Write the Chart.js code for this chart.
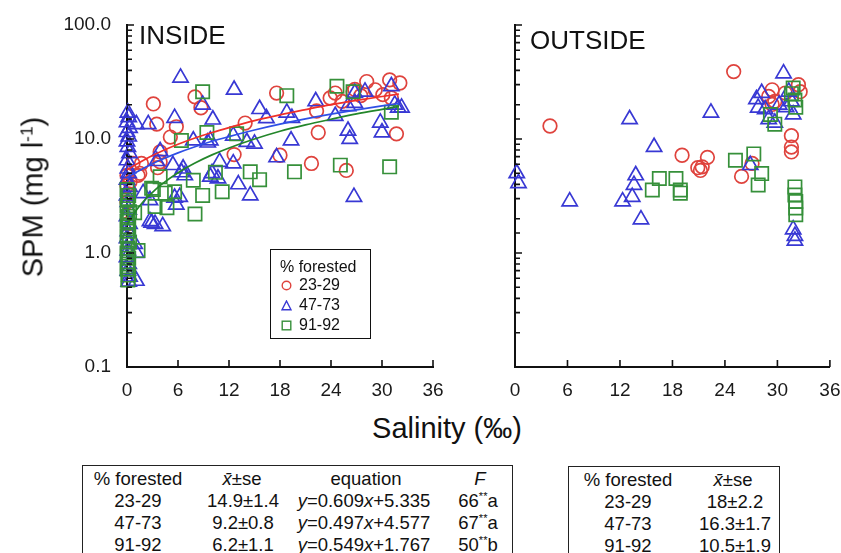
<!DOCTYPE html>
<html>
<head>
<meta charset="utf-8">
<script src="https://cdn.jsdelivr.net/npm/chart.js@4.4.0/dist/chart.umd.min.js"></script>
<style>
  body { margin: 0; background: #fff; width: 841px; height: 553px; overflow: hidden; position: relative;
         font-family: "Liberation Sans", Arial, sans-serif; color: #111; }
  canvas { position: absolute; top: 0; }
  #cInside { left: 0; }
  #cOutside { left: 440px; }
  .lbl { position: absolute; white-space: nowrap; line-height: 1; }
  .panel { font-size: 26px; }
  #ytitle { left: 33px; top: 197px; font-size: 29px; transform: translate(-50%, -50%) rotate(-90deg); }
  #xtitle { left: 447px; top: 428px; font-size: 29px; transform: translate(-50%, -50%); }
  sup { font-size: 60%; vertical-align: 0.6em; line-height: 0; }
  #legend { position: absolute; left: 270px; top: 249px; width: 101px; height: 90px; border: 1.5px solid #111;
            font-size: 16px; box-sizing: border-box; }
  #legend .lt { position: absolute; left: 9px; top: 8px; }
  #legend .lr { position: absolute; left: 10px; height: 20px; line-height: 20px; }
  #legend svg { vertical-align: -1px; margin-right: 7px; }
  .tbl { position: absolute; border: 1.5px solid #222; border-bottom: none; font-size: 18.5px; height: 100px; box-sizing: border-box; }
  .tbl span { position: absolute; transform: translateX(-50%); white-space: nowrap; line-height: 22px; }
</style>
</head>
<body>
<canvas id="cInside" width="450" height="410"></canvas>
<canvas id="cOutside" width="401" height="410"></canvas>

<div class="lbl panel" style="left:139px;top:22px">INSIDE</div>
<div class="lbl panel" style="left:530px;top:27px">OUTSIDE</div>
<div class="lbl" id="ytitle">SPM (mg l<sup>-1</sup>)</div>
<div class="lbl" id="xtitle">Salinity (‰)</div>
<div id="legend"></div>
<div class="tbl" id="tIn" style="left:82px;top:465px;width:431px"></div>
<div class="tbl" id="tOut" style="left:568px;top:466px;width:212px"></div>

<script>
// categories
const groups = ['23-29', '47-73', '91-92'];
const xTicks = [0, 6, 12, 18, 24, 30, 36];
const yDecades = [0.1, 1, 10, 100];
const yTickLabels = ['0.1', '1.0', '10.0', '100.0'];

// INSIDE  [salinity, SPM]
const inside2329 = [
  [0, 3.9], [0.35, 4.2], [0, 4.8], [0.7, 6.1], [1.3, 4.8], [1.5, 5.0], [1.7, 6.1], [0, 2.8], [0.1, 1.8], [0.2, 3.3],
  [3.1, 20.3], [3.5, 13.5], [3.9, 7.7], [3.6, 5.6], [3.9, 6.3], [5.1, 10.4], [5.8, 12.8], [8.0, 23.4], [8.7, 18.8],
  [13.9, 13.8], [12.6, 7.3], [17.6, 25.3], [18.0, 7.2], [22.3, 17.6], [22.5, 11.4], [21.7, 6.1], [25.8, 5.3],
  [23.9, 22.9], [24.5, 25.3], [25.3, 21.4], [26.6, 26.1], [26.8, 27.2], [28.2, 31.9], [29.2, 27], [30.1, 24.5],
  [30.9, 33], [31.1, 22.9], [32.1, 31], [31.7, 11.1], [27.5, 24]
];
const inside4773 = [
  [0.1, 17], [0.2, 15.5], [0, 14], [0.3, 12.5], [0, 11.5], [0.2, 10.5], [0, 9.5], [0.1, 8.5], [0.3, 7.5], [0, 6.5],
  [0.1, 5.5], [0.2, 5.0], [0, 4.4], [0.3, 3.8], [0, 3.2], [0.1, 2.8], [0.2, 2.4], [0, 2.1], [0.3, 1.8], [0.1, 1.55],
  [0, 1.35], [0.2, 1.2], [0.1, 1.05], [0, 0.92], [0.2, 0.8], [0.1, 0.7], [0.3, 0.62], [0.2, 0.56],
  [1.1, 13.5], [2.5, 13.5], [1.1, 1.0], [1.1, 0.57], [2.7, 1.9], [3.3, 1.8], [4.2, 1.72], [2.9, 1.84], [2.7, 2.9],
  [6.2, 3.1], [5.8, 2.65], [5.6, 3.05], [1.9, 3.35], [0.9, 1.2], [3.9, 7.8], [3.5, 6.4], [5.4, 5.9], [6.6, 5.5],
  [6.4, 5.1], [5.6, 15.3], [6.3, 34.5], [8.9, 20], [10.1, 14.8], [12.6, 27], [15.6, 18.3], [16.4, 15.2], [18.8, 17],
  [19.4, 15.3], [22.2, 21.4], [24.5, 15.9], [26, 19.4], [26.8, 25.3], [28, 26], [26.8, 20.7], [31.1, 29], [31.5, 20],
  [32.3, 18.8], [31.9, 18.8], [26, 11.8], [26.2, 10], [29.8, 13.9], [30, 11.4], [19.3, 9.7], [17.6, 6.9], [15, 9.1],
  [14.1, 9.4], [12.5, 10.7], [9.8, 9.7], [7.8, 9.7], [9.5, 9.3], [10.9, 6.3], [12.5, 6.1], [9.8, 4.66], [10.7, 4.5],
  [13.1, 4.0], [14.5, 3.2], [26.7, 3.1], [6.8, 4.8], [10, 5]
];
const inside9192 = [
  [0, 3.6], [0.2, 3.2], [0.1, 2.9], [0, 2.6], [0.3, 2.3], [0.1, 2.1], [0, 1.9], [0.2, 1.7], [0.1, 1.55], [0, 1.4],
  [0.3, 1.25], [0.1, 1.1], [0, 1.0], [0.2, 0.9], [0.1, 0.8], [0, 0.72], [0.2, 0.64], [0.1, 0.58],
  [1.3, 1.05], [0.9, 2.26], [2.9, 3.7], [3.1, 3.6], [3.3, 2.56], [4.7, 2.5], [4.5, 3.35], [5.6, 3.45], [3.9, 4.66],
  [7.8, 4.35], [8.9, 3.2], [8, 2.2], [10.4, 5.1], [11.2, 3.45], [6.4, 9.7], [9.4, 11.4], [12.9, 11.1], [8.9, 26],
  [18.8, 24], [24.7, 29], [26.6, 26], [31.1, 17.2], [14.5, 5.15], [15.6, 4.4], [19.7, 5.15], [25.1, 5.9], [30.9, 5.7]
];

// INSIDE fitted lines
const fitX     = [0, 0.5, 1, 2, 3, 4, 6, 8, 10, 12, 15, 18, 21, 24, 27, 30, 32];
const fit2329  = [5.34, 5.64, 5.94, 6.55, 7.16, 7.77, 8.99, 10.2, 11.4, 12.6, 14.5, 16.3, 18.1, 20.0, 21.8, 23.6, 24.8];
const fit4773  = [4.58, 4.83, 5.07, 5.57, 6.07, 6.57, 7.56, 8.55, 9.55, 10.5, 12.0, 13.5, 15.0, 16.5, 18.0, 19.5, 20.5];
const fit9192  = [1.77, 2.04, 2.32, 2.87, 3.41, 3.96, 5.06, 6.16, 7.26, 8.35, 10.0, 11.7, 13.3, 14.9, 16.6, 18.2, 19.3];

// OUTSIDE
const outside2329 = [
  [25, 39], [4, 13], [19.1, 7.2], [22, 6.9], [21.4, 5.7], [21.2, 5.3], [20.9, 5.6], [25.9, 4.7], [27.1, 6.1],
  [31.6, 10.7], [31.6, 8.5], [31.6, 7.7], [29.4, 27], [29.7, 21.4], [32.4, 29.9], [32.6, 26], [29, 23.6],
  [30.9, 25.3], [29.4, 20.1]
];
const outside4773 = [
  [30.7, 37.6], [0.2, 5.0], [0.4, 4.1], [6.25, 2.83], [13.1, 14.9], [15.9, 8.5], [13.8, 4.8], [13.6, 3.95],
  [13.4, 3.1], [12.3, 2.83], [14.4, 1.97], [22.4, 17], [26.9, 5.9], [27.8, 18.8], [28.2, 25.3], [28.6, 18.2],
  [29, 14.9], [29.7, 13.9], [31.3, 26], [31.8, 16.4], [31.6, 21.4], [31.8, 1.61], [32, 1.41], [32, 1.28],
  [27.6, 22.3], [30.2, 20], [31, 19]
];
const outside9192 = [
  [16.5, 4.5], [18.4, 4.5], [15.7, 3.57], [18.9, 3.57], [18.9, 3.35], [25.2, 6.5], [27.3, 7.4], [28.2, 4.97],
  [27.8, 3.95], [29.7, 13.5], [32, 3.8], [32, 3.23], [32.1, 2.83], [32.1, 2.48], [32.1, 2.17], [31.8, 28],
  [32, 22], [31.6, 25], [29.2, 16.4], [32.1, 19]
];

// tables
const insideMeanSe = ['14.9±1.4', '9.2±0.8', '6.2±1.1'];
const insideSlope = ['0.609', '0.497', '0.549'];
const insideIntercept = ['5.335', '4.577', '1.767'];
const insideF = ['66', '67', '50'];
const insideLetter = ['a', 'a', 'b'];
const outsideMeanSe = ['18±2.2', '16.3±1.7', '10.5±1.9'];

const markerColors = ['#df433d', '#3838d4', '#36903a'];
const lineColors = ['#f0302a', '#2f4fe6', '#23862a'];
const styles = ['circle', 'triangle', 'rect'];
const radii = [6.8, 8.8, 9.4];

const toPts = a => a.map(p => ({ x: p[0], y: p[1] }));

function scatterSet(pts, i) {
  return {
    type: 'scatter', data: toPts(pts), pointStyle: styles[i], pointRadius: radii[i],
    borderColor: markerColors[i], backgroundColor: 'rgba(0,0,0,0)', borderWidth: 1.7,
    clip: false, order: 3 - i
  };
}
function fitSet(ys, i) {
  return {
    type: 'line', data: fitX.map((x, k) => ({ x: x, y: ys[k] })), borderColor: lineColors[i],
    borderWidth: 1.7, pointRadius: 0, cubicInterpolationMode: 'monotone', fill: false, order: 0
  };
}

// inward tick marks on both axes
const inwardTicks = {
  id: 'inwardTicks',
  afterDraw(chart) {
    const { ctx, chartArea: a, scales: { x, y } } = chart;
    ctx.save();
    ctx.strokeStyle = '#111';
    ctx.lineWidth = 1.6;
    ctx.beginPath();
    y.ticks.forEach(t => {
      const py = y.getPixelForValue(t.value);
      const major = Math.abs(Math.log10(t.value) - Math.round(Math.log10(t.value))) < 1e-6;
      ctx.moveTo(a.left, py);
      ctx.lineTo(a.left + (major ? 7 : 5), py);
    });
    x.ticks.forEach(t => {
      const px = x.getPixelForValue(t.value);
      ctx.moveTo(px, a.bottom);
      ctx.lineTo(px, a.bottom - 7);
    });
    ctx.stroke();
    ctx.restore();
  }
};

function yLabel(v) {
  const i = yDecades.findIndex(d => Math.abs(Math.log10(v) - Math.log10(d)) < 1e-6);
  return i >= 0 ? yTickLabels[i] : '';
}

function makePanel(id, sets, fits, yWidth, rightPad, showY) {
  const datasets = sets.map((s, i) => scatterSet(s, i));
  fits.forEach((f, i) => datasets.push(fitSet(f, i)));
  const font = { family: '"Liberation Sans", Arial, sans-serif', size: 19 };
  return new Chart(document.getElementById(id), {
    type: 'scatter',
    data: { datasets: datasets },
    options: {
      responsive: false, animation: false, devicePixelRatio: 1,
      layout: { padding: { top: 25, right: rightPad, left: 0, bottom: 0 } },
      plugins: { legend: { display: false }, tooltip: { enabled: false } },
      scales: {
        x: {
          type: 'linear', min: 0, max: 36,
          afterBuildTicks: s => { s.ticks = xTicks.map(v => ({ value: v })); },
          afterFit: s => { s.height = 43; s.paddingLeft = 0; s.paddingRight = 0; },
          grid: { display: false, drawTicks: false },
          border: { display: true, color: '#111', width: 2 },
          ticks: { color: '#1a1a1a', font: font, padding: 12, maxRotation: 0, autoSkip: false }
        },
        y: {
          type: 'logarithmic', min: 0.1, max: 100,
          afterFit: s => { s.width = yWidth; s.paddingTop = 0; s.paddingBottom = 0; },
          grid: { display: false, drawTicks: false },
          border: { display: true, color: '#111', width: 2 },
          ticks: { display: showY, color: '#1a1a1a', font: font, padding: 16, autoSkip: false, callback: yLabel }
        }
      }
    },
    plugins: [inwardTicks]
  });
}

makePanel('cInside', [inside2329, inside4773, inside9192], [fit2329, fit4773, fit9192], 127, 17, true);
makePanel('cOutside', [outside2329, outside4773, outside9192], [], 75, 9, false);

// legend
const markerSvg = [
  '<svg width="11" height="11"><circle cx="5.5" cy="5.5" r="4.3" fill="none" stroke="' + markerColors[0] + '" stroke-width="1.4"/></svg>',
  '<svg width="11" height="11"><polygon points="5.5,1 10,9.8 1,9.8" fill="none" stroke="' + markerColors[1] + '" stroke-width="1.4"/></svg>',
  '<svg width="11" height="11"><rect x="1.2" y="1.2" width="8.6" height="8.6" fill="none" stroke="' + markerColors[2] + '" stroke-width="1.4"/></svg>'
];
let lg = '<div class="lt">% forested</div>';
groups.forEach((g, i) => { lg += '<div class="lr" style="top:' + (25 + i * 20) + 'px">' + markerSvg[i] + g + '</div>'; });
document.getElementById('legend').innerHTML = lg;

// tables
function cell(x, top, html) { return '<span style="left:' + x + 'px;top:' + top + 'px">' + html + '</span>'; }
let ti = cell(55, 2, '% forested') + cell(159, 2, '<i>x̄</i>±se') + cell(283, 2, 'equation') + cell(397, 2, '<i>F</i>');
groups.forEach((g, i) => {
  const t = 24 + i * 22;
  ti += cell(55, t, g) + cell(160, t, insideMeanSe[i]) +
        cell(281, t, '<i>y</i>=' + insideSlope[i] + '<i>x</i>+' + insideIntercept[i]) +
        cell(395, t, insideF[i] + '<sup>**</sup>' + insideLetter[i]);
});
document.getElementById('tIn').innerHTML = ti;
let to = cell(59, 2, '% forested') + cell(164, 2, '<i>x̄</i>±se');
groups.forEach((g, i) => {
  const t = 24 + i * 22;
  to += cell(59, t, g) + cell(166, t, outsideMeanSe[i]);
});
document.getElementById('tOut').innerHTML = to;
</script>
</body>
</html>
